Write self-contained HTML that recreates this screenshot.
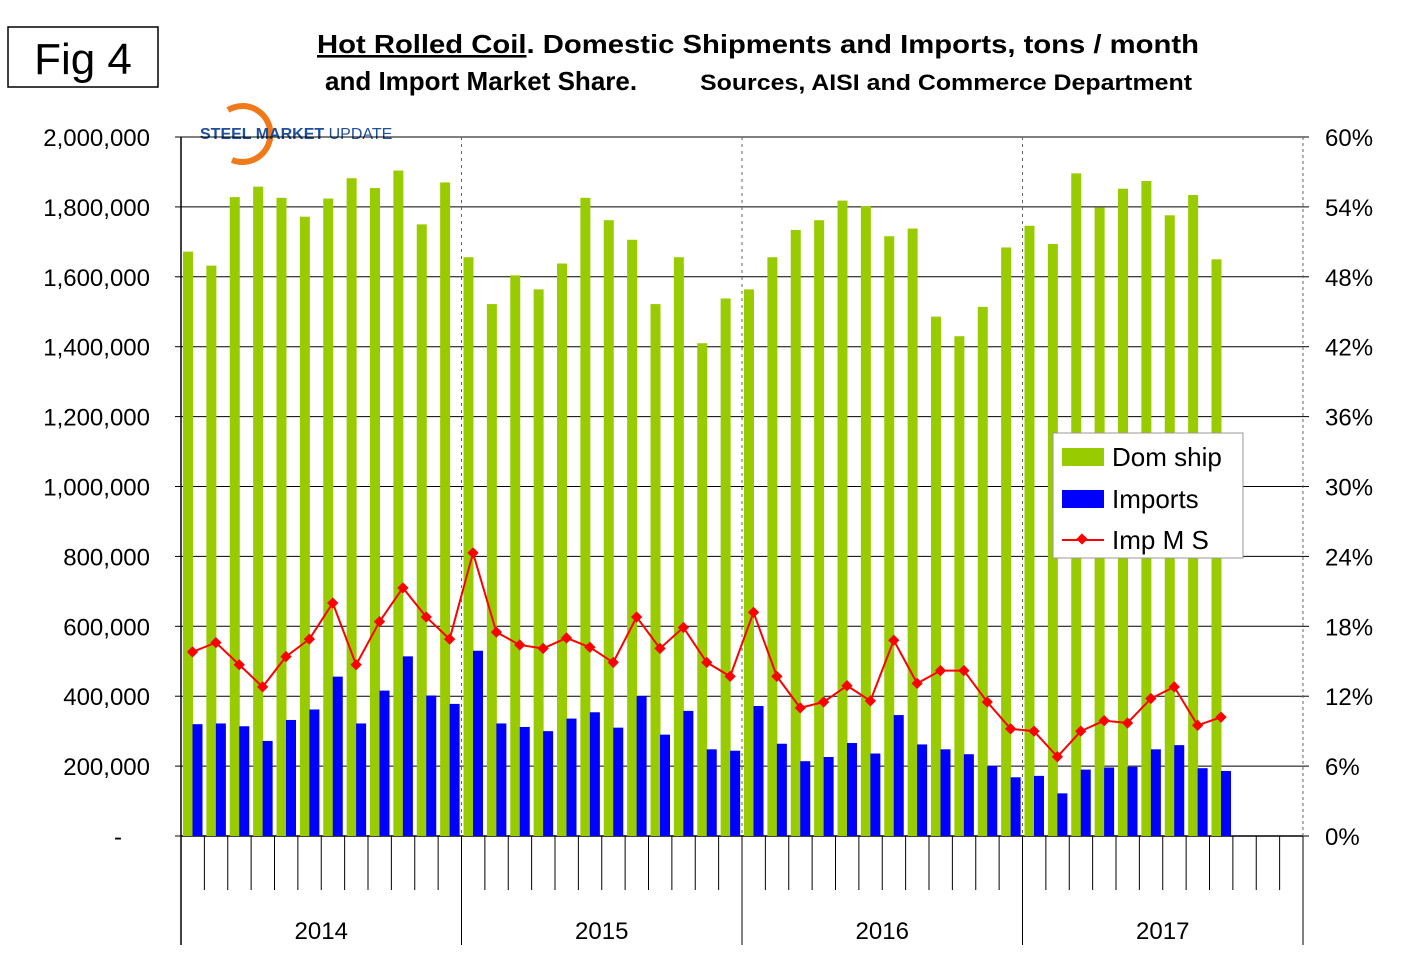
<!DOCTYPE html>
<html><head><meta charset="utf-8"><style>
body{margin:0;background:#fff;}
svg text{font-family:"Liberation Sans",Arial,sans-serif;}
</style></head><body>
<svg id="chart" width="1422" height="973" xmlns="http://www.w3.org/2000/svg">
<rect x="0" y="0" width="1422" height="973" fill="#fff"/>
<rect x="8" y="27" width="150" height="60" fill="#fff" stroke="#000" stroke-width="1.5"/>
<text x="83" y="74" font-size="44" text-anchor="middle">Fig 4</text>
<text x="317" y="53" font-size="26" font-weight="bold" textLength="882" lengthAdjust="spacingAndGlyphs"><tspan text-decoration="underline">Hot Rolled Coil</tspan>. Domestic Shipments and Imports, tons / month</text>
<text x="325" y="90" font-size="26" font-weight="bold">and Import Market Share.</text>
<text x="700" y="90" font-size="22" font-weight="bold" textLength="492" lengthAdjust="spacingAndGlyphs">Sources, AISI and Commerce Department</text>
<g>
<path d="M228 110 A28 28 0 1 1 232 160" fill="none" stroke="#f07a1a" stroke-width="6"/>
<text x="200" y="139" font-size="16" fill="#1f4e9c"><tspan font-weight="bold">STEEL MARKET</tspan> UPDATE</text>
</g>
<g id="axes"></g>
<g id="bars"></g>
<g id="line"></g>
<g>
<rect x="1053" y="433" width="190" height="125" fill="#fff" stroke="#999"/>
<rect x="1062" y="448" width="42" height="18" fill="#99cc00"/>
<text x="1112" y="466" font-size="26">Dom ship</text>
<rect x="1062" y="490" width="42" height="18" fill="#0000ff"/>
<text x="1112" y="508" font-size="26">Imports</text>
<line x1="1062" y1="540" x2="1104" y2="540" stroke="#ff0000" stroke-width="2"/>
<rect x="1078" y="535" width="8" height="8" fill="#ff0000" transform="rotate(45 1082 539)"/>
<text x="1112" y="549" font-size="26">Imp M S</text>
</g>
</svg>
<script>
const years = ['2014','2015','2016','2017'];
const domShip = [1672,1632,1828,1858,1826,1772,1824,1882,1854,1904,1750,1870,
 1656,1522,1604,1564,1638,1826,1762,1706,1522,1656,1410,1538,
 1564,1656,1734,1762,1818,1802,1716,1738,1486,1430,1514,1684,
 1746,1694,1896,1798,1852,1874,1776,1834,1650].map(v=>v*1000);
const imports = [320,322,314,272,332,362,456,322,416,514,402,378,
 530,322,312,300,336,354,310,400,290,358,248,244,
 372,264,214,226,266,236,346,262,248,234,200,168,
 172,122,190,196,198,248,260,194,186].map(v=>v*1000);
const share = [15.8,16.6,14.7,12.8,15.4,16.9,20.0,14.7,18.4,21.3,18.8,16.9,
 24.3,17.5,16.4,16.1,17.0,16.2,14.9,18.8,16.1,17.9,14.9,13.7,
 19.2,13.7,11.0,11.5,12.9,11.6,16.8,13.1,14.2,14.2,11.5,9.2,
 9.0,6.8,9.0,9.9,9.7,11.8,12.8,9.5,10.2];
const leftTicks = ['-','200,000','400,000','600,000','800,000','1,000,000','1,200,000','1,400,000','1,600,000','1,800,000','2,000,000'];
const rightTicks = ['0%','6%','12%','18%','24%','30%','36%','42%','48%','54%','60%'];

const NS='http://www.w3.org/2000/svg';
const X0=181,X1=1303,Y0=836,Y1=137,NM=48;
const mw=(X1-X0)/NM;
const yL=v=>Y0-(v/2000000)*(Y0-Y1);
const yR=v=>Y0-(v/60)*(Y0-Y1);
const xM=i=>X0+i*mw;
function mk(tag,attrs,parent){const e=document.createElementNS(NS,tag);for(const k in attrs)e.setAttribute(k,attrs[k]);parent.appendChild(e);return e;}
const axes=document.getElementById('axes'),bars=document.getElementById('bars'),line=document.getElementById('line');
for(let i=0;i<leftTicks.length;i++){
 const y=Y0-i*(Y0-Y1)/10;
 if(i>0){const g=mk('line',{x1:X0,x2:X1,y1:y,y2:y,stroke:'#000','stroke-width':1},axes);
 
 }
 const t=mk('text',{x:i===0?122:150,y:y+9,'font-size':24,'text-anchor':'end'},axes);t.textContent=leftTicks[i];
 
 
 const r=mk('text',{x:1325,y:y+9,'font-size':24},axes);r.textContent=rightTicks[i];
 
 
 mk('line',{x1:X0-6,x2:X0,y1:y,y2:y,stroke:'#000'},axes);
 mk('line',{x1:X1,x2:X1+6,y1:y,y2:y,stroke:'#000'},axes);
}
mk('line',{x1:X0,x2:X1,y1:Y0,y2:Y0,stroke:'#000','stroke-width':1.5},axes);
mk('line',{x1:X0,x2:X0,y1:Y1,y2:945,stroke:'#000','stroke-width':1.5},axes);
mk('line',{x1:X1,x2:X1,y1:Y1,y2:Y0,stroke:'#666','stroke-dasharray':'3,3'},axes);
for(let i=1;i<=NM;i++){
 const x=xM(i);
 if(i%12===0){
  if(i<NM) mk('line',{x1:x,x2:x,y1:Y1,y2:Y0,stroke:'#666','stroke-dasharray':'3,4'},axes);
  mk('line',{x1:x,x2:x,y1:Y0,y2:945,stroke:'#000'},axes);
 } else mk('line',{x1:x,x2:x,y1:Y0,y2:890,stroke:'#000'},axes);
}
years.forEach((yr,k)=>{const t=mk('text',{x:xM(k*12+6),y:939,'font-size':24,'text-anchor':'middle'},axes);t.textContent=yr;
 
 });
domShip.forEach((v,i)=>{const b=mk('rect',{x:xM(i)+2,y:yL(v),width:10,height:Y0-yL(v),fill:'#99cc00'},bars);
 
 });
imports.forEach((v,i)=>{const b=mk('rect',{x:xM(i)+11.5,y:yL(v),width:10,height:Y0-yL(v),fill:'#0000ff'},bars);
 
 });
const pts=share.map((v,i)=>[xM(i)+11.5,yR(v)]);
const pl=mk('polyline',{points:pts.map(p=>p.join(',')).join(' '),fill:'none',stroke:'#ff0000','stroke-width':2},line);


pts.forEach(p=>{const m=mk('rect',{x:p[0]-4,y:p[1]-4,width:8,height:8,fill:'#ff0000',transform:`rotate(45 ${p[0]} ${p[1]})`},line);
 
 });
</script>
</body></html>
